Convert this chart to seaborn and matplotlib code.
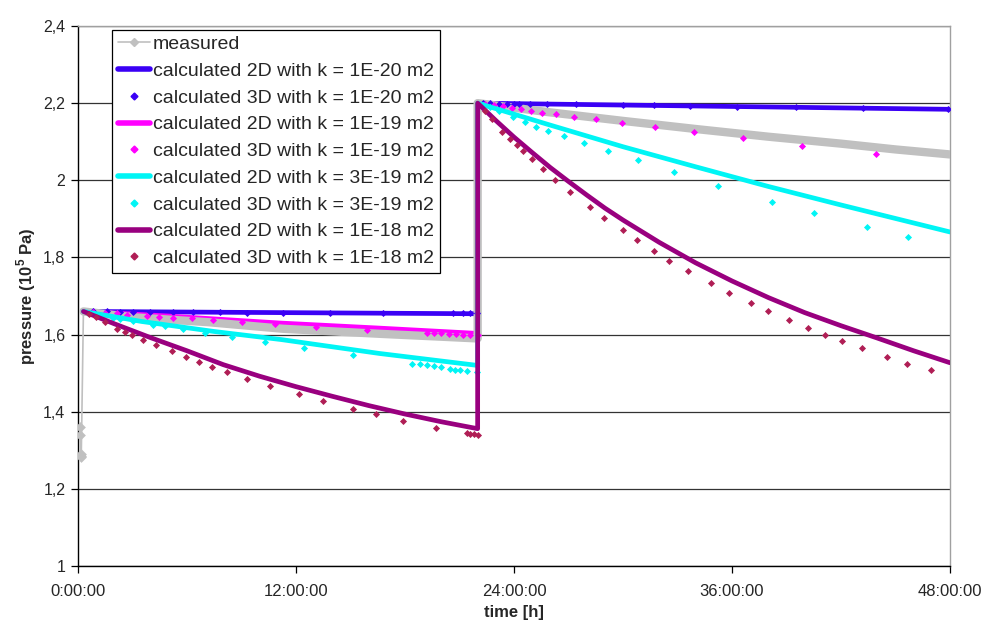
import matplotlib
matplotlib.use("Agg")
import matplotlib.pyplot as plt
from matplotlib.lines import Line2D
import seaborn as sns
import pandas as pd

# ---- time axis (hours) ----
x_ticks = [0, 12, 24, 36, 48]
x_tick_labels = ["0:00:00", "12:00:00", "24:00:00", "36:00:00", "48:00:00"]
y_ticks = [1.0, 1.2, 1.4, 1.6, 1.8, 2.0, 2.2, 2.4]
y_tick_labels = ["1", "1,2", "1,4", "1,6", "1,8", "2", "2,2", "2,4"]

# ---- measured pressure ----
meas_t = [0.10, 0.12, 0.14, 0.16, 0.18, 0.30, 3.0, 7.2, 11.3, 16.6, 22.0,
          22.0, 26.0, 30.0, 34.0, 38.0, 42.0, 45.0, 48.0]
meas_p = [1.36, 1.34, 1.29, 1.285, 1.283, 1.66, 1.645, 1.632, 1.615, 1.602, 1.590,
          2.200, 2.176, 2.154, 2.133, 2.113, 2.095, 2.080, 2.067]

# ---- 2D calculations ----
c2d_20_t = [0.3, 11.0, 22.0, 22.0, 35.0, 48.0]
c2d_20_p = [1.660, 1.657, 1.654, 2.200, 2.192, 2.184]

c2d_19_t = [0.3, 5.0, 11.1, 16.5, 22.0, 22.0, 26.0, 30.0, 34.0, 38.0, 42.0, 48.0]
c2d_19_p = [1.660, 1.648, 1.630, 1.617, 1.603, 2.200, 2.175, 2.152, 2.131, 2.111, 2.093, 2.065]

c2d_3e19_t = [0.3, 3.5, 7.5, 11.2, 16.6, 22.0,
              22.0, 26.0, 30.0, 34.0, 38.0, 42.0, 45.0, 48.0]
c2d_3e19_p = [1.660, 1.634, 1.608, 1.587, 1.551, 1.520,
              2.200, 2.143, 2.087, 2.035, 1.984, 1.936, 1.901, 1.866]

c2d_18_t = [0.3, 2.0, 4.0, 6.0, 8.0, 10.0, 12.0, 14.0, 16.0, 18.0, 20.0, 22.0,
            22.0, 23.0, 24.0, 25.0, 26.0, 27.0, 28.0, 29.0, 30.0, 32.0, 34.0, 36.0,
            38.0, 40.0, 42.0, 44.0, 46.0, 48.0]
c2d_18_p = [1.660, 1.628, 1.592, 1.558, 1.522, 1.492, 1.465, 1.440, 1.416, 1.394, 1.374, 1.356,
            2.200, 2.155, 2.112, 2.072, 2.033, 1.997, 1.962, 1.928, 1.897, 1.839, 1.786, 1.739,
            1.696, 1.657, 1.623, 1.591, 1.558, 1.527]

# ---- 3D calculations ----
c3d_20_t = [0.84, 1.58, 2.31, 3.05, 3.96, 5.25, 6.35, 7.81, 9.28, 11.3, 13.87, 16.8,
            20.66, 21.2, 21.6, 21.94,
            22.3, 22.7, 23.2, 23.6, 24.0, 24.3, 24.9, 25.8, 27.4, 30.0, 31.7, 33.7,
            36.3, 39.5, 43.2, 47.9]
c3d_20_p = [1.660, 1.660, 1.659, 1.659, 1.659, 1.658, 1.658, 1.658, 1.657, 1.657, 1.657, 1.656,
            1.655, 1.655, 1.655, 1.655,
            2.200, 2.200, 2.199, 2.199, 2.199, 2.199, 2.198, 2.198, 2.197, 2.195, 2.194, 2.193,
            2.191, 2.189, 2.187, 2.184]

c3d_19_t = [0.8, 1.5, 2.13, 2.68, 3.78, 4.46, 5.25, 6.26, 7.45, 9.01, 10.84, 13.1, 15.89,
            19.2, 19.6, 20.0, 20.4, 20.8, 21.2, 21.6, 22.0,
            22.4, 22.9, 23.4, 23.9, 24.38, 24.93, 25.55, 26.34, 27.31, 28.49, 29.96,
            31.76, 33.92, 36.6, 39.88, 43.9]
c3d_19_p = [1.659, 1.657, 1.655, 1.652, 1.648, 1.646, 1.643, 1.642, 1.637, 1.633, 1.628, 1.620, 1.613,
            1.605, 1.604, 1.603, 1.602, 1.601, 1.600, 1.599, 1.598,
            2.198, 2.195, 2.192, 2.188, 2.184, 2.179, 2.175, 2.171, 2.165, 2.158, 2.149,
            2.138, 2.124, 2.109, 2.090, 2.068]

c3d_3e19_t = [0.57, 0.94, 1.3, 1.91, 2.31, 3.05, 4.11, 4.79, 5.80, 6.99, 8.46, 10.29, 12.45, 15.13,
              18.4, 18.8, 19.2, 19.6, 20.0, 20.47, 20.75, 21.02, 21.39, 21.94,
              22.3, 22.7, 23.2, 23.96, 24.6, 25.21, 25.89, 26.76, 27.85, 29.19, 30.8,
              32.8, 35.22, 38.18, 40.54, 43.42, 45.7]
c3d_3e19_p = [1.656, 1.650, 1.648, 1.644, 1.640, 1.635, 1.626, 1.622, 1.614, 1.604, 1.594, 1.581, 1.564, 1.547,
              1.525, 1.523, 1.521, 1.518, 1.515, 1.511, 1.509, 1.507, 1.505, 1.502,
              2.196, 2.190, 2.180, 2.165, 2.152, 2.139, 2.128, 2.115, 2.097, 2.076, 2.052,
              2.021, 1.986, 1.945, 1.915, 1.879, 1.853]

c3d_18_t = [0.6, 1.0, 1.5, 2.13, 2.59, 2.95, 3.6, 4.29, 5.19, 5.94, 6.68, 7.36, 8.22, 9.28, 10.58,
            12.16, 13.47, 15.13, 16.38, 17.89, 19.72, 21.4, 21.6, 21.8, 22.0,
            22.4, 22.8, 23.32, 23.78, 24.18, 24.51, 24.97, 25.57, 26.25, 27.11, 28.16, 28.97,
            29.99, 30.76, 31.72, 32.54, 33.59, 34.85, 35.85, 37.06, 37.99, 39.15, 40.16,
            41.11, 42.05, 43.17, 44.52, 45.61, 46.95]
c3d_18_p = [1.654, 1.645, 1.632, 1.615, 1.607, 1.600, 1.587, 1.572, 1.557, 1.542, 1.529, 1.517, 1.502, 1.485, 1.467,
            1.445, 1.427, 1.407, 1.393, 1.377, 1.359, 1.345, 1.343, 1.341, 1.339,
            2.180, 2.158, 2.126, 2.106, 2.091, 2.076, 2.054, 2.030, 2.002, 1.969, 1.931, 1.903,
            1.870, 1.845, 1.816, 1.792, 1.764, 1.733, 1.709, 1.681, 1.661, 1.637, 1.617,
            1.599, 1.583, 1.564, 1.542, 1.525, 1.508]

labels = ["measured",
          "calculated 2D with k = 1E-20 m2", "calculated 3D with k = 1E-20 m2",
          "calculated 2D with k = 1E-19 m2", "calculated 3D with k = 1E-19 m2",
          "calculated 2D with k = 3E-19 m2", "calculated 3D with k = 3E-19 m2",
          "calculated 2D with k = 1E-18 m2", "calculated 3D with k = 1E-18 m2"]

GRAY = "#C0C0C0"
BLUE = "#3A00F5"
MAGENTA = "#FF00FF"
CYAN = "#00F5F5"
PURPLE = "#99007F"
CRIMSON = "#B01E55"
LW2D = 3.4

sns.set_theme(style="white")
plt.rcParams["font.family"] = ["Liberation Sans", "DejaVu Sans"]
plt.rcParams["mathtext.fontset"] = "custom"
plt.rcParams["mathtext.rm"] = "Liberation Sans"
plt.rcParams["mathtext.bf"] = "Liberation Sans:bold"

fig, ax = plt.subplots(figsize=(9.87, 6.28), dpi=100)
fig.subplots_adjust(left=0.079, right=0.9625, top=0.9586, bottom=0.0987)


def line(t, p, color, lw, z):
    df = pd.DataFrame({"t": t, "p": p})
    sns.lineplot(data=df, x="t", y="p", color=color, linewidth=lw, sort=False,
                 estimator=None, ax=ax, zorder=z)


def dots(t, p, color, z, s=13):
    df = pd.DataFrame({"t": t, "p": p})
    sns.scatterplot(data=df, x="t", y="p", color=color, marker="D", s=s,
                    linewidth=0, ax=ax, zorder=z)


# measured: thin lead-in from the start-up readings, then the dense record as a band
line(meas_t[:6], meas_p[:6], GRAY, 1.2, 3)
dots(meas_t[:5], meas_p[:5], GRAY, 3, s=30)
line(c2d_20_t, c2d_20_p, BLUE, LW2D, 2)
dots(c3d_20_t, c3d_20_p, BLUE, 4)
line(c2d_19_t, c2d_19_p, MAGENTA, LW2D, 2)
line(meas_t[5:], meas_p[5:], GRAY, 6.0, 3)
dots(c3d_19_t, c3d_19_p, MAGENTA, 4)
line(c2d_3e19_t, c2d_3e19_p, CYAN, LW2D, 4)
dots(c3d_3e19_t, c3d_3e19_p, CYAN, 4)
line(c2d_18_t, c2d_18_p, PURPLE, LW2D, 5)
dots(c3d_18_t, c3d_18_p, CRIMSON, 5)

ax.set_xlim(0, 48)
ax.set_ylim(1.0, 2.4)
ax.set_xticks(x_ticks)
ax.set_xticklabels(x_tick_labels, fontsize=12)
ax.set_yticks(y_ticks)
ax.set_yticklabels(y_tick_labels, fontsize=11.5)
ax.yaxis.grid(True, color="#333333", linewidth=0.9)
ax.xaxis.grid(False)
ax.tick_params(axis="x", direction="out", length=5, width=0.9, color="black",
               pad=8, bottom=True)
ax.tick_params(axis="y", direction="out", length=5, width=0.9, color="black",
               pad=4, left=True)
for side in ("left", "bottom"):
    ax.spines[side].set_color("black")
    ax.spines[side].set_linewidth(1.0)
for side in ("top", "right"):
    ax.spines[side].set_color("#A0A0A0")
    ax.spines[side].set_linewidth(1.0)

ax.set_xlabel("time [h]", fontsize=12, fontweight="bold", labelpad=4)
ax.set_ylabel(r"pressure (10$^{\mathbf{5}}$ Pa)", fontsize=12, fontweight="bold", labelpad=4)

handles = [
    Line2D([], [], color=GRAY, lw=1.2, marker="D", markersize=4),
    Line2D([], [], color=BLUE, lw=4),
    Line2D([], [], color=BLUE, lw=0, marker="D", markersize=3.5),
    Line2D([], [], color=MAGENTA, lw=4),
    Line2D([], [], color=MAGENTA, lw=0, marker="D", markersize=3.5),
    Line2D([], [], color=CYAN, lw=4),
    Line2D([], [], color=CYAN, lw=0, marker="D", markersize=3.5),
    Line2D([], [], color=PURPLE, lw=4),
    Line2D([], [], color=CRIMSON, lw=0, marker="D", markersize=3.5),
]
leg = ax.legend(handles, labels, loc="upper left", bbox_to_anchor=(0.039, 0.993),
                borderaxespad=0, fontsize=14, frameon=True, fancybox=False,
                edgecolor="black", framealpha=1, handlelength=1.65, handletextpad=0.15,
                labelspacing=0.47, borderpad=0.3)
leg.get_frame().set_linewidth(0.9)
leg.set_zorder(10)

fig.savefig("out.png", dpi=100, facecolor="white")
